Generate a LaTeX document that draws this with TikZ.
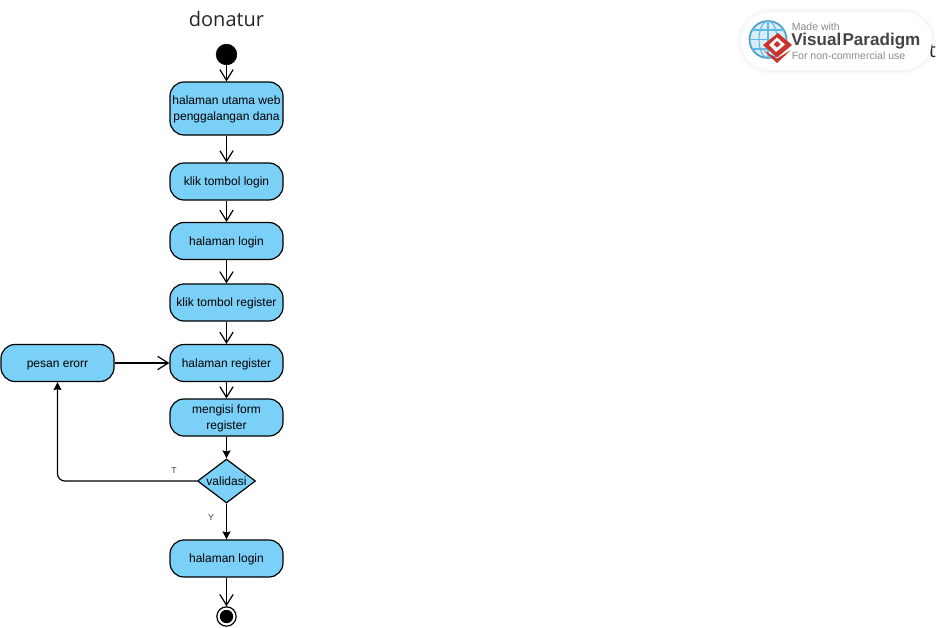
\documentclass[tikz,border=0pt]{standalone}
\usepackage{fontspec}
\setmainfont{Liberation Sans}
\newfontfamily\opensans{Open Sans}
\usetikzlibrary{arrows.meta,shapes.geometric,shadows.blur}
\definecolor{fillblue}{HTML}{7BD0F7}
\definecolor{vpgrey}{HTML}{444444}
\definecolor{vplight}{HTML}{8A8A8A}
\definecolor{vpred}{HTML}{C9342C}
\definecolor{vpglobe}{HTML}{5FB7E5}
\newcommand{\upstrut}{\rule{0pt}{8.2pt}}
\tikzset{
  x=0.75pt,y=-0.75pt,
  act/.style={draw=black,line width=0.9pt,fill=fillblue,rounded corners=10.5pt,minimum width=84.75pt,inner sep=0pt,align=center,font=\fontsize{9}{12}\selectfont},
  act1/.style={act,minimum height=27.75pt},
  act2/.style={act,minimum height=39.75pt},
  dec/.style={draw=black,line width=0.9pt,fill=fillblue,diamond,shape aspect=1.32,inner sep=0pt,minimum width=43.5pt,minimum height=33pt,font=\fontsize{9}{11}\selectfont},
  open/.style={draw=black,line width=0.9pt,-{Straight Barb[length=8pt,width=10pt,line width=0.9pt]}},
  solid/.style={draw=black,line width=0.9pt,-{Stealth[length=6pt,width=6pt,inset=0.8pt]}},
  lbl/.style={font=\fontsize{6.5}{8}\selectfont,text=black!75,inner sep=0pt},
}
\begin{document}
\begin{tikzpicture}
\useasboundingbox (0,0) rectangle (942,628);
\node[font=\opensans\fontsize{15}{18}\selectfont,text=black!85,inner sep=0pt] (title) at (226.5,19) {donatur};
\node[font=\opensans\fontsize{15}{18}\selectfont,text=black!85,inner sep=0pt] (cut) at (932.5,51) {t};
\node[circle,fill=black,draw=black,inner sep=0pt,minimum size=15.5pt] (start) at (226.5,54.5) {};
\node[act2] (a1) at (226.5,108.5) {\upstrut halaman utama web\\penggalangan dana};
\node[act1] (a2) at (226.5,181.5) {\upstrut klik tombol login};
\node[act1] (a3) at (226.5,241) {\upstrut halaman login};
\node[act1] (a4) at (226.5,302.5) {\upstrut klik tombol register};
\node[act1] (a5) at (226.5,363) {\upstrut halaman register};
\node[act1] (a6) at (226.5,417.5) {\upstrut mengisi form\\register};
\node[dec] (d) at (226.5,481) {validasi};
\node[act1] (a7) at (226.5,558.5) {\upstrut halaman login};
\node[act1] (err) at (57.5,363) {\upstrut pesan erorr};
\node[circle,draw=black,line width=0.9pt,fill=white,inner sep=0pt,minimum size=14.5pt] (endo) at (226.5,616.5) {};
\node[circle,fill=black,inner sep=0pt,minimum size=10pt] (endi) at (226.5,616.5) {};
\draw[open] (start) -- (a1);
\draw[open] (a1) -- (a2);
\draw[open] (a2) -- (a3);
\draw[open] (a3) -- (a4);
\draw[open] (a4) -- (a5);
\draw[open] (a5) -- (a6);
\draw[open] (a7) -- (endo);
\draw[open,line width=1.2pt] (err) -- (a5);
\draw[solid] (a6) -- (d);
\draw[solid] (d) -- (a7);
\draw[solid,rounded corners=5.5pt] (d.west) -| (err.south);
\node[lbl] (t) at (174,470.5) {T};
\node[lbl] (y) at (211,517.5) {Y};
% watermark
\fill[white,rounded corners=22pt,blur shadow={shadow blur steps=12,shadow xshift=0pt,shadow yshift=0pt,shadow blur radius=4pt,shadow opacity=10}] (741,12) rectangle (932,70);
\draw[vpglobe!85!black,line width=1.3pt,fill=vpglobe!25] (768,39.5) circle[radius=18.5];
\draw[vpglobe,line width=0.8pt] (768,21) -- (768,58) (749.5,39.5) -- (786.5,39.5) (752,30) -- (784,30) (752,49) -- (784,49);
\draw[vpglobe,line width=0.8pt] (768,39.5) ellipse[x radius=9,y radius=18.5];
\fill[vpred] (763,50) -- (777,63) -- (791,50) -- (777,58.5) -- cycle;
\fill[vpred] (778,33) -- (792,45) -- (777,57.5) -- (763,45) -- cycle;
\fill[white] (777,37.5) -- (785,44.5) -- (776,52) -- (769,45) -- cycle;
\fill[vpred] (777,41) -- (780.5,44.5) -- (777,47.5) -- (773.5,44.5) -- cycle;
\node[anchor=west,inner sep=0pt,text=vplight,font=\fontsize{7.9}{9}\selectfont] (v1) at (791.5,27) {Made with};
\node[anchor=west,inner sep=0pt,text=vpgrey,font=\bfseries\fontsize{12.8}{15}\selectfont] (v2) at (791,41) {Visual\kern1pt Paradigm};
\node[anchor=west,inner sep=0pt,text=vplight,font=\fontsize{7.9}{9}\selectfont] (v3) at (791.5,55.5) {For non-commercial use};
\end{tikzpicture}
\end{document}
